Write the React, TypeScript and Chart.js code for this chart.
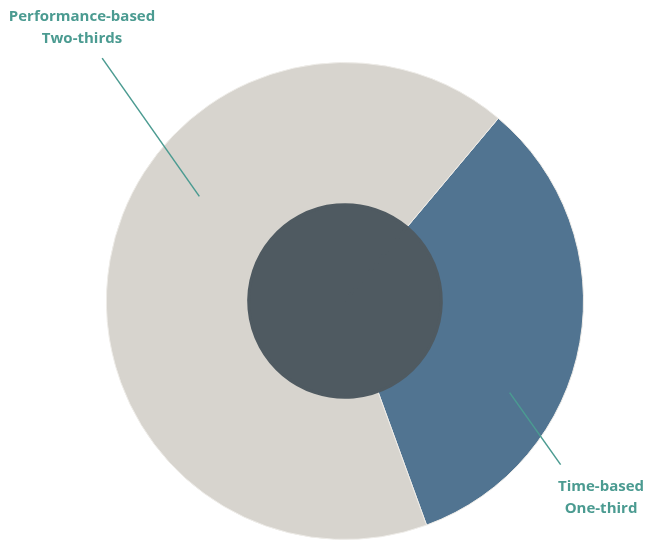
import React, { useEffect, useRef } from "react";
import { Chart, registerables } from "chart.js";

Chart.register(...registerables);

const categories = ["Time-based", "Performance-based"];
const shareLabels = ["One-third", "Two-thirds"];
const values = [1, 2];
const sliceColors = ["#517491", "#d7d4ce"];
const centerValue = [1];

const TEAL = "#4b9b91";

const labelPlugin = {
  id: "leaderLabels",
  afterDatasetsDraw(chart: any) {
    const meta = chart.getDatasetMeta(0);
    const arc = meta.data[0];
    if (!arc) return;
    const cx = arc.x;
    const cy = arc.y;
    const R = arc.outerRadius;
    const ctx = chart.ctx;
    const specs = [
      { idx: 0, a1: 119.1, r1: 0.79, a2: 127.2, r2: 1.135, tx: 256, ty: 186 },
      { idx: 1, a1: 305.7, r1: 0.752, a2: 315, r2: 1.44, tx: -263, ty: -284 },
    ];
    const pt = (a: number, r: number) => {
      const rad = (a * Math.PI) / 180;
      return [cx + Math.sin(rad) * r * R, cy - Math.cos(rad) * r * R];
    };
    ctx.save();
    ctx.strokeStyle = TEAL;
    ctx.lineWidth = 1.5;
    specs.forEach((s) => {
      const [x1, y1] = pt(s.a1, s.r1);
      const [x2, y2] = pt(s.a2, s.r2);
      ctx.beginPath();
      ctx.moveTo(x1, y1);
      ctx.lineTo(x2, y2);
      ctx.stroke();
      ctx.fillStyle = TEAL;
      ctx.font = "bold 15px 'Open Sans'";
      ctx.textAlign = "center";
      ctx.textBaseline = "middle";
      ctx.fillText(categories[s.idx], cx + s.tx, cy + s.ty);
      ctx.fillText(shareLabels[s.idx], cx + s.tx, cy + s.ty + 22);
    });
    ctx.restore();
  },
};

export default function App() {
  const ref = useRef<HTMLCanvasElement>(null);
  useEffect(() => {
    if (!ref.current) return;
    const chart = new Chart(ref.current, {
      type: "doughnut",
      data: {
        labels: categories,
        datasets: [
          {
            data: values,
            backgroundColor: sliceColors,
            borderColor: "#eeece8",
            borderWidth: 1,
            weight: 142.5,
          },
          {
            data: centerValue,
            backgroundColor: ["#4f5a61"],
            borderColor: "#4f5a61",
            borderWidth: 3,
            weight: 96.5,
            order: -1,
          },
        ],
      },
      options: {
        responsive: true,
        maintainAspectRatio: false,
        animation: false,
        cutout: 0,
        rotation: 40,
        layout: { padding: { left: 106, right: 63, top: 62, bottom: 8 } },
        plugins: {
          legend: { display: false },
          tooltip: { enabled: false },
        },
      },
      plugins: [labelPlugin],
    });
    return () => chart.destroy();
  }, []);
  return (
    <div style={{ position: "fixed", left: 0, top: 0, width: 647, height: 548, background: "#fff" }}>
      <canvas ref={ref} />
    </div>
  );
}
